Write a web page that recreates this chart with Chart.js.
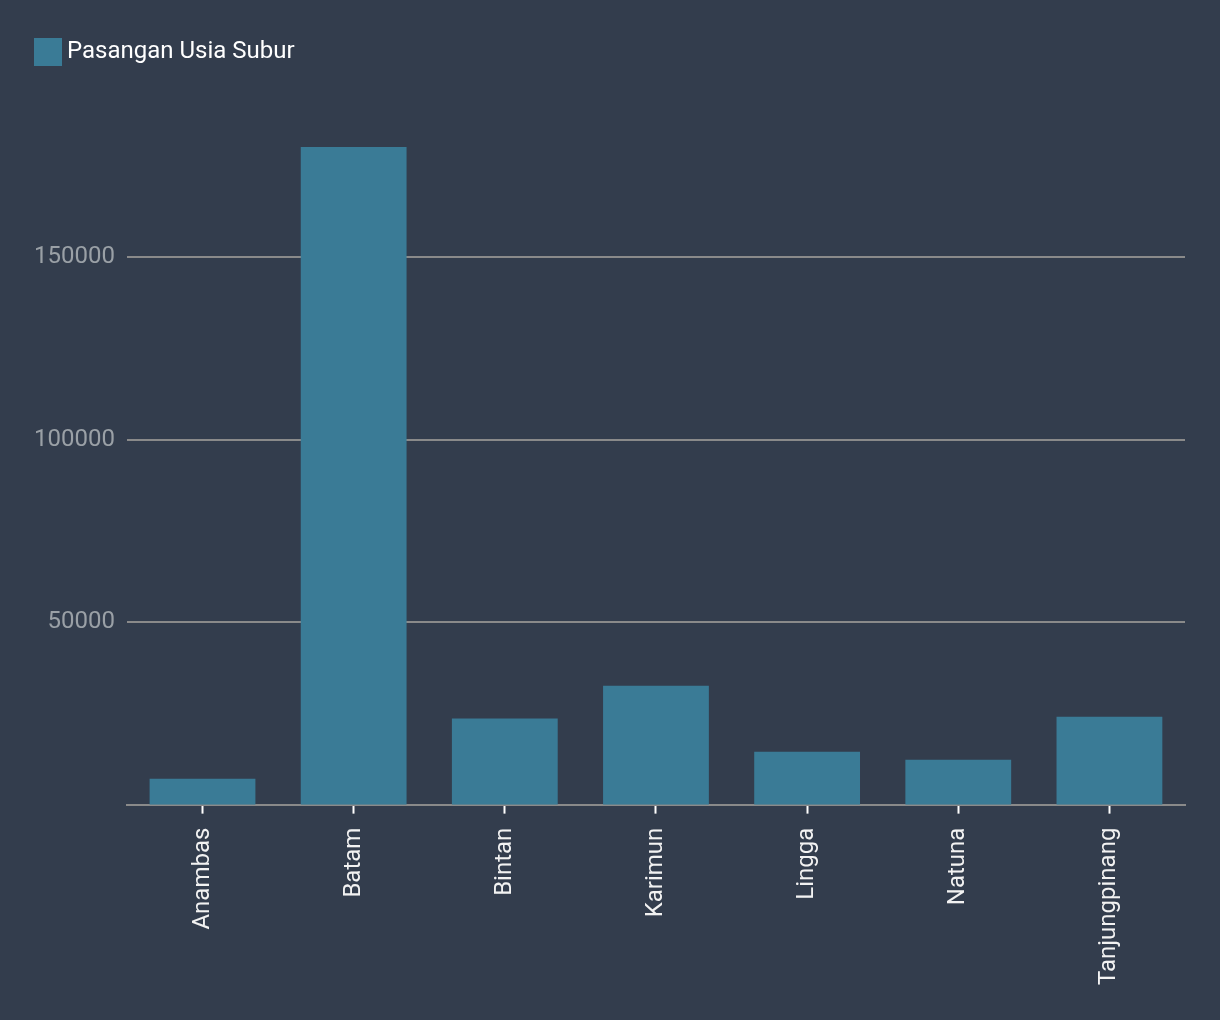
<!DOCTYPE html>
<html>
<head>
<meta charset="utf-8">
<script src="https://cdn.jsdelivr.net/npm/chart.js@4/dist/chart.umd.min.js"></script>
<style>
  html, body { margin: 0; padding: 0; background: #333d4d; }
  #wrap { width: 1220px; height: 1020px; }
</style>
</head>
<body>
<div id="wrap"><canvas id="c" width="1220" height="1020"></canvas></div>
<script>
const categories = ["Anambas", "Batam", "Bintan", "Karimun", "Lingga", "Natuna", "Tanjungpinang"];
const seriesName = "Pasangan Usia Subur";
const seriesValues = [7100, 180200, 23600, 32600, 14500, 12300, 24100];
const yTickStep = 50000;
const barColor = '#3a7b96';

// Simple legend drawn with the chart's own dataset label and colour
const topLegend = {
  id: 'topLegend',
  afterDraw(chart) {
    const ctx = chart.ctx;
    const ds = chart.data.datasets[0];
    ctx.save();
    ctx.fillStyle = ds.backgroundColor;
    ctx.fillRect(34, 38, 28, 28);
    ctx.fillStyle = '#ffffff';
    ctx.font = "24px Roboto, 'Noto Sans', sans-serif";
    ctx.textBaseline = 'middle';
    ctx.textAlign = 'left';
    ctx.fillText(ds.label, 67, 52);
    ctx.restore();
  }
};

Chart.defaults.font.family = "Roboto, 'Noto Sans', sans-serif";
Chart.defaults.font.size = 24;

new Chart(document.getElementById('c'), {
  type: 'bar',
  data: {
    labels: categories,
    datasets: [{
      label: seriesName,
      data: seriesValues,
      backgroundColor: barColor,
      borderWidth: 0,
      barPercentage: 0.7,
      categoryPercentage: 1.0
    }]
  },
  options: {
    responsive: false,
    animation: false,
    layout: { padding: { left: 22, right: 35, top: 147, bottom: 21 } },
    plugins: {
      legend: { display: false },
      tooltip: { enabled: false }
    },
    scales: {
      x: {
        grid: {
          display: true,
          offset: false,
          drawOnChartArea: false,
          drawTicks: true,
          tickLength: 9,
          tickColor: '#ffffff',
          tickWidth: 2
        },
        border: { display: true, color: '#8a8a8a', width: 2 },
        ticks: {
          color: '#f2f2f2',
          minRotation: 90,
          maxRotation: 90,
          padding: 14,
          font: { size: 24 }
        }
      },
      y: {
        beginAtZero: true,
        bounds: 'data',
        grid: { color: '#8a8a8a', lineWidth: 2, drawTicks: false },
        border: { display: false },
        afterBuildTicks(scale) {
          scale.ticks = scale.ticks.filter(t => t.value % yTickStep === 0 && t.value > 0);
        },
        ticks: {
          stepSize: yTickStep,
          color: '#9aa0a6',
          padding: 12,
          font: { size: 24 },
          callback: (v) => String(v)
        }
      }
    }
  },
  plugins: [topLegend]
});
</script>
</body>
</html>
